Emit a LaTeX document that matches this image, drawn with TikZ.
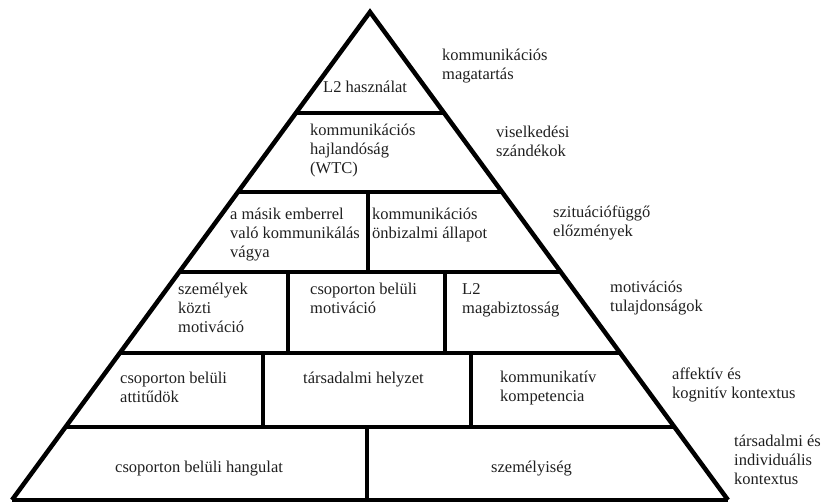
\documentclass[tikz,border=0pt]{standalone}
\usepackage{fontspec}
\setmainfont{Liberation Serif}
\usetikzlibrary{calc}
\tikzset{
  edge/.style={line width=4.5pt, line join=miter, line cap=butt},
  bar/.style={line width=4pt},
  lbl/.style={anchor=north west, inner sep=0pt, align=left, text=black!88,
    font=\fontsize{16.5}{19}\selectfont, execute at begin node={\rule{0pt}{14pt}}}
}
\begin{document}
\begin{tikzpicture}[x=1pt,y=-1pt]
\useasboundingbox (0,0) rectangle (823,502);
\coordinate (A) at (370,12);
\coordinate (BL) at (12,500);
\coordinate (BR) at (728,500);
% outer triangle
\draw[edge] (BL) -- (A) -- (BR);
\draw[bar] (BL) -- (BR);
% horizontal levels
\foreach \t/\n in {0.2070/h1,0.3689/h2,0.5328/h3,0.6988/h4,0.8504/h5}{
  \coordinate (\n l) at ($(A)!\t!(BL)$);
  \coordinate (\n r) at ($(A)!\t!(BR)$);
  \draw[bar] (\n l) -- (\n r);
}
% vertical dividers
\draw[bar] (368,192) -- (368,272);
\draw[bar] (288,272) -- (288,353);
\draw[bar] (445,272) -- (445,353);
\draw[bar] (263,353) -- (263,427);
\draw[bar] (471,353) -- (471,427);
\draw[bar] (367,427) -- (367,500);
% texts inside
\node[lbl] (t1) at (323,78) {L2 használat};
\node[lbl] (t2) at (310,124) {kommunikációs\\hajlandóság\\(WTC)};
\node[lbl] (t3) at (230,208) {a másik emberrel\\való kommunikálás\\vágya};
\node[lbl] (t4) at (372,208) {kommunikációs\\önbizalmi állapot};
\node[lbl] (t5) at (178,283) {személyek\\közti\\motiváció};
\node[lbl] (t6) at (310,283) {csoporton belüli\\motiváció};
\node[lbl] (t7) at (462,283) {L2\\magabiztosság};
\node[lbl] (t8) at (120,372) {csoporton belüli\\attitűdök};
\node[lbl] (t9) at (303,369) {társadalmi helyzet};
\node[lbl] (t10) at (500,371) {kommunikatív\\kompetencia};
\node[lbl] (t11) at (115,458) {csoporton belüli hangulat};
\node[lbl] (t12) at (491,458) {személyiség};
% right labels
\node[lbl] (r1) at (442,49) {kommunikációs\\magatartás};
\node[lbl] (r2) at (496,126) {viselkedési\\szándékok};
\node[lbl] (r3) at (553,206) {szituációfüggő\\előzmények};
\node[lbl] (r4) at (610,281) {motivációs\\tulajdonságok};
\node[lbl] (r5) at (672,368) {affektív és\\kognitív kontextus};
\node[lbl] (r6) at (734,435) {társadalmi és\\individuális\\kontextus};
\end{tikzpicture}
\end{document}
